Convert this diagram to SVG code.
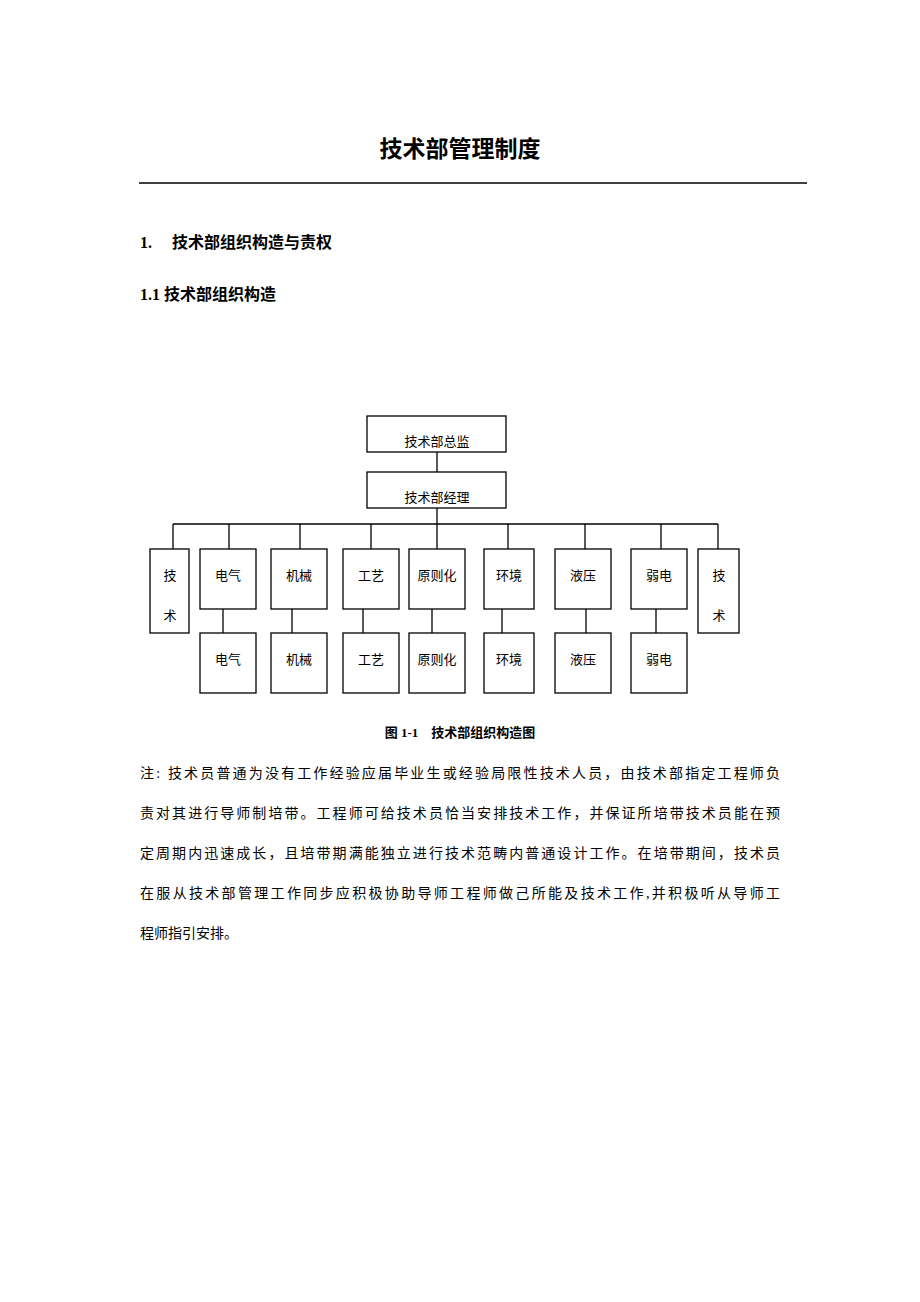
<svg xmlns="http://www.w3.org/2000/svg" width="920" height="1302" viewBox="0 0 920 1302">
<style>
text{font-family:"Liberation Serif","Noto Sans CJK SC",serif;fill:#000}
.b{fill:#fff;stroke:#000;stroke-width:1.3}
.n{font-size:13px;text-anchor:middle}
.p{font-size:14px}
.h{font-size:16px;font-weight:bold}
line{stroke:#000;stroke-width:1.3}
</style>
<rect width="920" height="1302" fill="#fff"/>
<text x="460" y="157" font-size="23" text-anchor="middle" font-weight="bold">技术部管理制度</text>
<line x1="139" y1="183" x2="807" y2="183"/>
<text class="h" x="140" y="248">1.</text>
<text class="h" x="172" y="248">技术部组织构造与责权</text>
<text class="h" x="140" y="300">1.1 技术部组织构造</text>
<g id="connectors">
<line x1="437" y1="452" x2="437" y2="472"/>
<line x1="437" y1="508" x2="437" y2="549"/>
<line x1="173" y1="524" x2="718" y2="524"/>
<line x1="173" y1="524" x2="173" y2="549"/>
<line x1="229" y1="524" x2="229" y2="549"/>
<line x1="300" y1="524" x2="300" y2="549"/>
<line x1="371" y1="524" x2="371" y2="549"/>
<line x1="508" y1="524" x2="508" y2="549"/>
<line x1="585" y1="524" x2="585" y2="549"/>
<line x1="661" y1="524" x2="661" y2="549"/>
<line x1="718" y1="524" x2="718" y2="549"/>
<line x1="223" y1="609" x2="223" y2="633"/>
<line x1="292" y1="609" x2="292" y2="633"/>
<line x1="363" y1="609" x2="363" y2="633"/>
<line x1="432" y1="609" x2="432" y2="633"/>
<line x1="502" y1="609" x2="502" y2="633"/>
<line x1="586" y1="609" x2="586" y2="633"/>
<line x1="656" y1="609" x2="656" y2="633"/>
</g>
<g id="n-director"><rect class="b" x="367" y="416" width="139" height="36"/><text class="n" x="437" y="446">技术部总监</text></g>
<g id="n-manager"><rect class="b" x="367" y="472" width="139" height="36"/><text class="n" x="437" y="502">技术部经理</text></g>
<g id="n-tech1"><rect class="b" x="150" y="549" width="39" height="84"/><text class="n" x="170" y="580">技</text><text class="n" x="170" y="620">术</text></g>
<g id="n-dq1"><rect class="b" x="200" y="549" width="56" height="60"/><text class="n" x="228" y="580">电气</text></g>
<g id="n-jx1"><rect class="b" x="271" y="549" width="56" height="60"/><text class="n" x="299" y="580">机械</text></g>
<g id="n-gy1"><rect class="b" x="343" y="549" width="56" height="60"/><text class="n" x="371" y="580">工艺</text></g>
<g id="n-yz1"><rect class="b" x="409" y="549" width="56" height="60"/><text class="n" x="437" y="580">原则化</text></g>
<g id="n-hj1"><rect class="b" x="484" y="549" width="50" height="60"/><text class="n" x="509" y="580">环境</text></g>
<g id="n-yy1"><rect class="b" x="555" y="549" width="56" height="60"/><text class="n" x="583" y="580">液压</text></g>
<g id="n-rd1"><rect class="b" x="631" y="549" width="56" height="60"/><text class="n" x="659" y="580">弱电</text></g>
<g id="n-tech2"><rect class="b" x="698" y="549" width="41" height="84"/><text class="n" x="719" y="580">技</text><text class="n" x="719" y="620">术</text></g>
<g id="n-dq2"><rect class="b" x="200" y="633" width="56" height="60"/><text class="n" x="228" y="664">电气</text></g>
<g id="n-jx2"><rect class="b" x="271" y="633" width="56" height="60"/><text class="n" x="299" y="664">机械</text></g>
<g id="n-gy2"><rect class="b" x="343" y="633" width="56" height="60"/><text class="n" x="371" y="664">工艺</text></g>
<g id="n-yz2"><rect class="b" x="409" y="633" width="56" height="60"/><text class="n" x="437" y="664">原则化</text></g>
<g id="n-hj2"><rect class="b" x="484" y="633" width="50" height="60"/><text class="n" x="509" y="664">环境</text></g>
<g id="n-yy2"><rect class="b" x="555" y="633" width="56" height="60"/><text class="n" x="583" y="664">液压</text></g>
<g id="n-rd2"><rect class="b" x="631" y="633" width="56" height="60"/><text class="n" x="659" y="664">弱电</text></g>
<text x="460" y="737" font-size="13" font-weight="bold" text-anchor="middle">图 1-1　技术部组织构造图</text>
<text class="p" x="140" y="778" textLength="640" lengthAdjust="spacing">注: 技术员普通为没有工作经验应届毕业生或经验局限性技术人员，由技术部指定工程师负</text>
<text class="p" x="140" y="818" textLength="640" lengthAdjust="spacing">责对其进行导师制培带。工程师可给技术员恰当安排技术工作，并保证所培带技术员能在预</text>
<text class="p" x="140" y="858" textLength="640" lengthAdjust="spacing">定周期内迅速成长，且培带期满能独立进行技术范畴内普通设计工作。在培带期间，技术员</text>
<text class="p" x="140" y="898" textLength="640" lengthAdjust="spacing">在服从技术部管理工作同步应积极协助导师工程师做己所能及技术工作,并积极听从导师工</text>
<text class="p" x="140" y="938">程师指引安排。</text>
</svg>
